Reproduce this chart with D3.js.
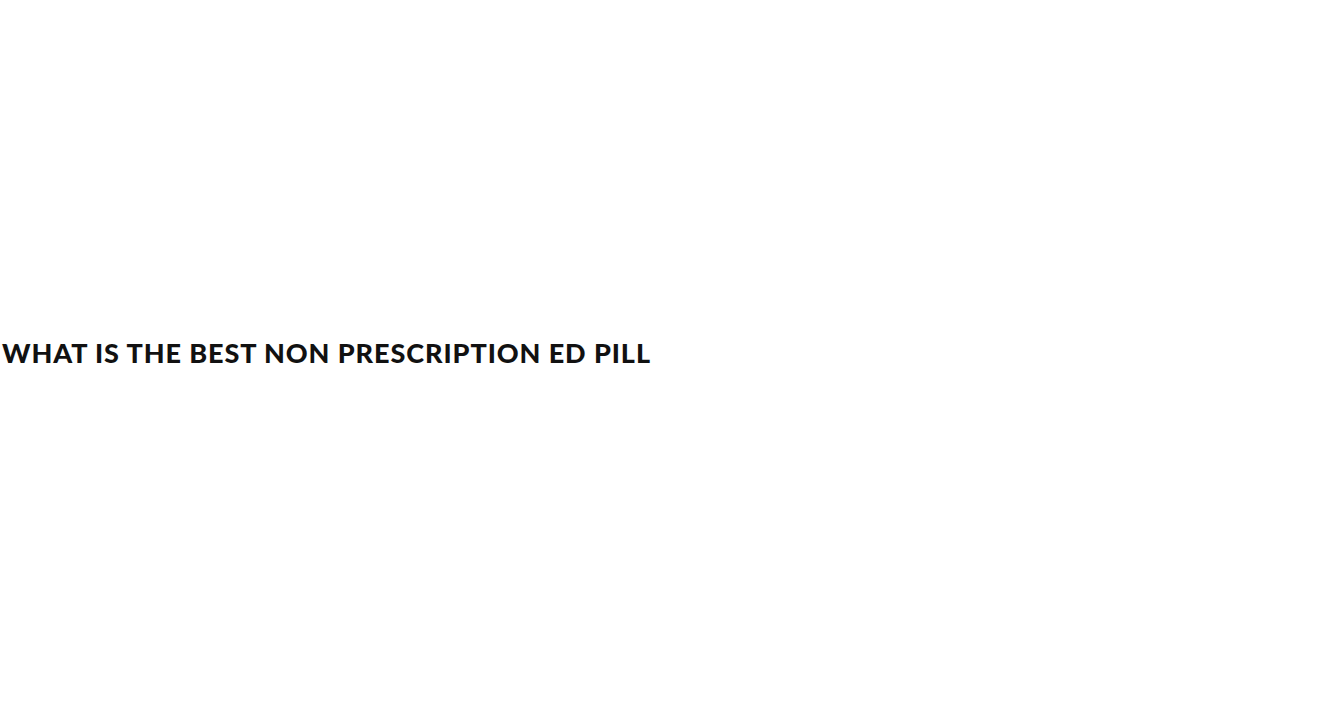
<!DOCTYPE html>
<html>
<head>
<meta charset="utf-8">
<script src="https://cdn.jsdelivr.net/npm/d3@7"></script>
<style>
  html, body { margin: 0; padding: 0; background: #ffffff; }
  svg { display: block; }
</style>
</head>
<body>
<div id="chart"></div>
<script>
const titleLines = ["WHAT IS THE BEST NON PRESCRIPTION ED PILL"];

const width = 1329, height = 726;
const svg = d3.select("#chart").append("svg")
  .attr("width", width).attr("height", height);

svg.append("rect").attr("width", width).attr("height", height).attr("fill", "#ffffff");

svg.selectAll("text.title")
  .data(titleLines)
  .join("text")
  .attr("class", "title")
  .attr("x", 2)
  .attr("y", 363)
  .attr("font-family", "Lato, 'Liberation Sans', sans-serif")
  .attr("font-weight", 900)
  .attr("font-size", 27)
  .attr("fill", "#111111")
  .attr("textLength", 648)
  .attr("lengthAdjust", "spacing")
  .text(d => d);
</script>
</body>
</html>
